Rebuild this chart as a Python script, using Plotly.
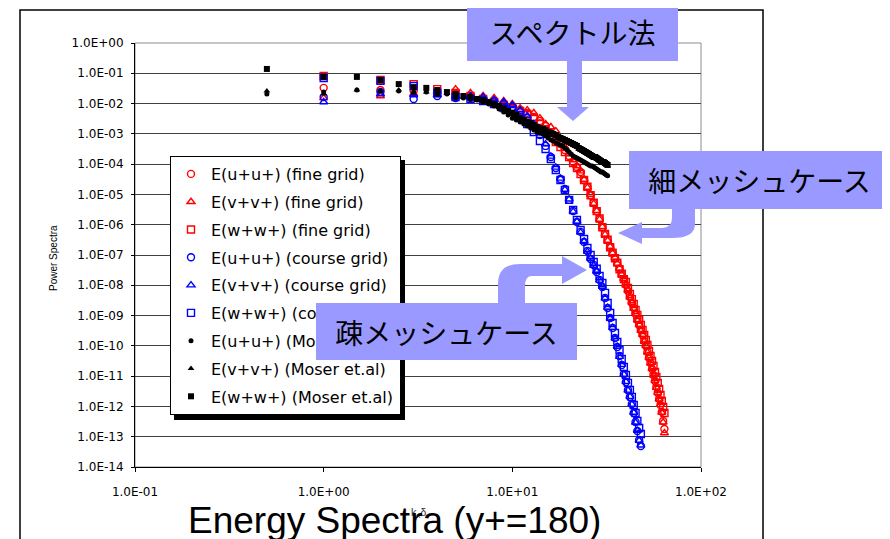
import plotly.graph_objects as go

# ---------------- data ----------------
kx_fine = [1, 2, 3, 4, 5, 6, 7, 8, 9, 10, 11, 12, 13, 14, 15, 16,
           17, 18, 19, 20, 21, 22, 23, 24, 25, 26, 27, 28, 29, 30, 31, 32,
           33, 34, 35, 36, 37, 38, 39, 40, 41, 42, 43, 44, 45, 46, 47, 48,
           49, 50, 51, 52, 53, 54, 55, 56, 57, 58, 59, 60, 61, 62, 63, 64]
kx_coarse = [1, 2, 3, 4, 5, 6, 7, 8, 9, 10, 11, 12, 13, 14, 15, 16,
             17, 18, 19, 20, 21, 22, 23, 24, 25, 26, 27, 28, 29, 30, 31, 32,
             33, 34, 35, 36, 37, 38, 39, 40, 41, 42, 43, 44, 45, 46, 47, 48]
kx_moser = [0.5, 1.0, 1.5, 2.0, 2.5, 3.0, 3.5, 4.0, 4.5, 5.0, 5.5, 6.0, 6.5, 7.0, 7.5, 8.0,
            8.5, 9.0, 9.5, 10.0, 10.5, 11.0, 11.5, 12.0, 12.5, 13.0, 13.5, 14.0, 14.5, 15.0, 15.5, 16.0,
            16.5, 17.0, 17.5, 18.0, 18.5, 19.0, 19.5, 20.0, 20.5, 21.0, 21.5, 22.0, 22.5, 23.0, 23.5, 24.0,
            24.5, 25.0, 25.5, 26.0, 26.5, 27.0, 27.5, 28.0, 28.5, 29.0, 29.5, 30.0, 30.5, 31.0, 31.5, 32.0]

E_uu_fine = [3.3e-2, 2.8e-2, 2.6e-2, 2.4e-2, 2.1e-2, 1.65e-2, 1.42e-2, 1.22e-2,
             9.7e-3, 7.7e-3, 6.1e-3, 4.9e-3, 3.6e-3, 2.66e-3, 1.82e-3, 1.07e-3,
             6.8e-4, 4.6e-4, 2.94e-4, 1.86e-4, 1.18e-4, 8.1e-5, 5.5e-5, 3.0e-5,
             1.76e-5, 9.6e-6, 5.2e-6, 2.84e-6, 1.55e-6, 8.4e-7, 4.9e-7, 3.1e-7,
             1.84e-7, 1.17e-7, 8.0e-8, 5.5e-8, 3.5e-8, 2.37e-8, 1.62e-8, 1.03e-8,
             6.5e-9, 4.1e-9, 2.6e-9, 1.78e-9, 1.13e-9, 7.2e-10, 4.9e-10, 3.35e-10,
             2.29e-10, 1.45e-10, 9.9e-11, 6.3e-11, 4.0e-11, 2.72e-11, 1.73e-11, 1.09e-11,
             6.9e-12, 4.4e-12, 2.79e-12, 1.77e-12, 1.12e-12, 6.6e-13, 3.3e-13, 1.8e-13]
E_vv_fine = [1.53e-2, 1.78e-2, 2.1e-2, 2.4e-2, 3.0e-2, 2.23e-2, 1.78e-2, 1.53e-2,
             1.22e-2, 9.7e-3, 7.1e-3, 6.1e-3, 4.9e-3, 3.3e-3, 2.12e-3, 1.69e-3,
             1.24e-3, 6.8e-4, 3.7e-4, 2.16e-4, 1.37e-4, 8.7e-5, 5.9e-5, 3.1e-5,
             1.7e-5, 9.9e-6, 5.0e-6, 2.9e-6, 1.5e-6, 8.6e-7, 4.8e-7, 3.0e-7,
             1.9e-7, 1.15e-7, 8.2e-8, 5.3e-8, 3.6e-8, 2.3e-8, 1.65e-8, 1.0e-8,
             6.7e-9, 4.0e-9, 2.7e-9, 1.72e-9, 1.16e-9, 7.0e-10, 5.0e-10, 3.2e-10,
             2.35e-10, 1.4e-10, 1.02e-10, 6.1e-11, 4.1e-11, 2.65e-11, 1.78e-11, 1.06e-11,
             7.1e-12, 4.2e-12, 2.85e-12, 1.72e-12, 1.15e-12, 6.3e-13, 3.0e-13, 1.33e-13]
E_ww_fine = [8.1e-2, 6.0e-2, 4.4e-2, 3.0e-2, 2.23e-2, 1.78e-2, 1.42e-2, 1.13e-2,
             9.0e-3, 7.1e-3, 5.7e-3, 4.5e-3, 3.1e-3, 2.12e-3, 1.34e-3, 8.5e-4,
             5.4e-4, 3.7e-4, 2.52e-4, 1.72e-4, 1.09e-4, 7.5e-5, 4.7e-5, 3.0e-5,
             1.8e-5, 9.4e-6, 5.3e-6, 2.8e-6, 1.6e-6, 8.2e-7, 5.0e-7, 3.2e-7,
             1.8e-7, 1.2e-7, 7.8e-8, 5.6e-8, 3.4e-8, 2.4e-8, 1.6e-8, 1.29e-8,
             8.2e-9, 5.2e-9, 3.5e-9, 2.42e-9, 1.53e-9, 1.05e-9, 7.2e-10, 4.9e-10,
             3.35e-10, 2.29e-10, 1.57e-10, 1.07e-10, 6.8e-11, 4.6e-11, 3.2e-11, 2.17e-11,
             1.37e-11, 9.4e-12, 6.0e-12, 3.8e-12, 2.39e-12, 1.52e-12, 9.6e-13, 6.1e-13]

E_uu_coarse = [1.65e-2, 2.4e-2, 1.42e-2, 1.78e-2, 1.53e-2, 1.53e-2, 1.31e-2, 1.22e-2,
               9.7e-3, 7.7e-3, 5.3e-3, 3.3e-3, 1.82e-3, 9.2e-4, 4.0e-4, 1.72e-4,
               7.5e-5, 3.24e-5, 1.51e-5, 6.6e-6, 2.84e-6, 1.23e-6, 5.8e-7, 2.69e-7,
               1.36e-7, 7.4e-8, 4.7e-8, 2.75e-8, 1.5e-8, 8.8e-9, 3.8e-9, 1.78e-9,
               8.3e-10, 3.9e-10, 1.82e-10, 9.2e-11, 4.6e-11, 2.34e-11, 1.18e-11, 6.4e-12,
               3.5e-12, 2.06e-12, 1.21e-12, 6.1e-13, 3.08e-13, 1.55e-13, 7.8e-14, 4.95e-14]
E_vv_coarse = [1.13e-2, 2.07e-2, 1.92e-2, 1.92e-2, 1.65e-2, 1.78e-2, 1.65e-2, 1.31e-2,
               1.13e-2, 9.0e-3, 6.1e-3, 3.9e-3, 2.12e-3, 1.07e-3, 4.6e-4, 1.8e-4,
               7.8e-5, 3.4e-5, 1.45e-5, 6.9e-6, 2.7e-6, 1.28e-6, 5.6e-7, 2.8e-7,
               1.3e-7, 7.7e-8, 4.5e-8, 2.85e-8, 1.45e-8, 9.1e-9, 3.7e-9, 1.84e-9,
               8.0e-10, 4.0e-10, 1.76e-10, 9.5e-11, 4.4e-11, 2.4e-11, 1.14e-11, 6.6e-12,
               3.4e-12, 2.1e-12, 1.17e-12, 6.3e-13, 2.95e-13, 1.6e-13, 7.5e-14, 5.2e-14]
E_ww_coarse = [7.0e-2, 5.6e-2, 3.8e-2, 2.23e-2, 1.65e-2, 1.42e-2, 1.22e-2, 9.7e-3,
               7.1e-3, 5.7e-3, 3.6e-3, 2.12e-3, 1.15e-3, 5.8e-4, 3.16e-4, 1.48e-4,
               6.4e-5, 3.0e-5, 1.4e-5, 6.6e-6, 3.07e-6, 1.43e-6, 6.7e-7, 3.38e-7,
               1.71e-7, 1.0e-7, 5.9e-8, 3.5e-8, 2.03e-8, 1.19e-8, 5.6e-9, 2.6e-9,
               1.22e-9, 5.7e-10, 2.67e-10, 1.35e-10, 7.3e-11, 3.7e-11, 2.01e-11, 1.09e-11,
               6.0e-12, 3.5e-12, 2.06e-12, 1.12e-12, 6.1e-13, 3.3e-13, 1.95e-13, 1.23e-13]

E_uu_moser = [2.07e-2, 2.4e-2, 2.8e-2, 2.6e-2, 2.6e-2, 2.4e-2, 2.4e-2, 2.07e-2,
              2.07e-2, 1.53e-2, 1.53e-2, 1.42e-2, 1.31e-2, 1.13e-2, 9.7e-3, 8.3e-3,
              6.6e-3, 5.3e-3, 4.2e-3, 3.3e-3, 2.87e-3, 2.47e-3, 2.12e-3, 1.82e-3,
              1.56e-3, 1.34e-3, 1.15e-3, 1.07e-3, 9.9e-4, 8.5e-4, 7.3e-4, 6.3e-4,
              5.8e-4, 5.0e-4, 4.6e-4, 4.3e-4, 4.0e-4, 3.42e-4, 2.94e-4, 2.52e-4,
              2.16e-4, 1.86e-4, 1.72e-4, 1.6e-4, 1.48e-4, 1.37e-4, 1.27e-4, 1.18e-4,
              1.09e-4, 1.01e-4, 9.4e-5, 8.7e-5, 8.7e-5, 8.1e-5, 7.5e-5, 6.9e-5,
              6.4e-5, 5.9e-5, 5.5e-5, 5.5e-5, 5.1e-5, 4.7e-5, 4.4e-5, 4.1e-5]
E_vv_moser = [2.6e-2, 2.07e-2, 2.8e-2, 2.6e-2, 2.8e-2, 2.23e-2, 2.4e-2, 1.92e-2,
              2.23e-2, 1.65e-2, 1.65e-2, 1.53e-2, 1.31e-2, 1.22e-2, 1.05e-2, 9.0e-3,
              7.7e-3, 6.6e-3, 5.3e-3, 4.5e-3, 3.9e-3, 3.1e-3, 2.66e-3, 2.29e-3,
              2.12e-3, 1.82e-3, 1.56e-3, 1.45e-3, 1.34e-3, 1.24e-3, 1.07e-3, 9.9e-4,
              9.2e-4, 8.5e-4, 7.3e-4, 6.8e-4, 6.3e-4, 5.8e-4, 5.4e-4, 5.0e-4,
              4.6e-4, 4.3e-4, 4.0e-4, 3.7e-4, 3.16e-4, 2.94e-4, 2.72e-4, 2.52e-4,
              2.34e-4, 2.16e-4, 2.0e-4, 1.86e-4, 1.72e-4, 1.6e-4, 1.6e-4, 1.48e-4,
              1.37e-4, 1.27e-4, 1.18e-4, 1.09e-4, 1.09e-4, 1.01e-4, 9.4e-5, 8.7e-5]
E_ww_moser = [1.39e-1, 7.6e-2, 7.6e-2, 6.0e-2, 4.4e-2, 3.5e-2, 3.3e-2, 2.8e-2,
              2.4e-2, 2.07e-2, 1.78e-2, 1.65e-2, 1.42e-2, 1.31e-2, 1.13e-2, 9.7e-3,
              8.3e-3, 7.1e-3, 5.7e-3, 4.9e-3, 4.2e-3, 3.3e-3, 2.87e-3, 2.47e-3,
              2.29e-3, 1.96e-3, 1.69e-3, 1.56e-3, 1.45e-3, 1.34e-3, 1.15e-3, 1.07e-3,
              9.9e-4, 9.2e-4, 7.9e-4, 7.3e-4, 6.8e-4, 6.3e-4, 5.8e-4, 5.4e-4,
              5.0e-4, 4.6e-4, 4.3e-4, 4.0e-4, 3.42e-4, 3.16e-4, 2.94e-4, 2.72e-4,
              2.52e-4, 2.34e-4, 2.16e-4, 2.0e-4, 1.86e-4, 1.72e-4, 1.72e-4, 1.6e-4,
              1.48e-4, 1.37e-4, 1.27e-4, 1.18e-4, 1.18e-4, 1.09e-4, 1.01e-4, 9.4e-5]

x_tick_vals = [0.1, 1, 10, 100]
x_tick_text = ["1.0E-01", "1.0E+00", "1.0E+01", "1.0E+02"]
y_tick_vals = [1e0, 1e-1, 1e-2, 1e-3, 1e-4, 1e-5, 1e-6, 1e-7,
               1e-8, 1e-9, 1e-10, 1e-11, 1e-12, 1e-13, 1e-14]
y_tick_text = ["1.0E+00", "1.0E-01", "1.0E-02", "1.0E-03", "1.0E-04", "1.0E-05",
               "1.0E-06", "1.0E-07", "1.0E-08", "1.0E-09", "1.0E-10", "1.0E-11",
               "1.0E-12", "1.0E-13", "1.0E-14"]

series = [
    ("E(u+u+) (fine grid)", kx_fine, E_uu_fine, "circle-open", "#FF0000"),
    ("E(v+v+) (fine grid)", kx_fine, E_vv_fine, "triangle-up-open", "#FF0000"),
    ("E(w+w+) (fine grid)", kx_fine, E_ww_fine, "square-open", "#FF0000"),
    ("E(u+u+) (course grid)", kx_coarse, E_uu_coarse, "circle-open", "#0000FF"),
    ("E(v+v+) (course grid)", kx_coarse, E_vv_coarse, "triangle-up-open", "#0000FF"),
    ("E(w+w+) (course grid)", kx_coarse, E_ww_coarse, "square-open", "#0000FF"),
    ("E(u+u+) (Moser et.al)", kx_moser, E_uu_moser, "circle", "#000000"),
    ("E(v+v+) (Moser et.al)", kx_moser, E_vv_moser, "triangle-up", "#000000"),
    ("E(w+w+) (Moser et.al)", kx_moser, E_ww_moser, "square", "#000000"),
]

# ---------------- layout geometry (page pixels) ----------------
W, H = 890, 539
OFF = 8                               # default page (body) margin of the html page
PL, PR, PT, PB = 135, 701, 43, 467    # plot area box as seen on the page


def fx(x):
    return (x - PL) / (PR - PL)


def fy(y):
    return (PB - y) / (PB - PT)


def ppath(cmds):
    out = []
    for c in cmds:
        if isinstance(c, str):
            out.append(c)
        else:
            out.append(f"{fx(c[0]):.5f},{fy(c[1]):.5f}")
    return " ".join(out)


fig = go.Figure()
for i, (name, xs, ys, sym, col) in enumerate(series):
    filled = not sym.endswith("open")
    fig.add_trace(go.Scatter(
        x=xs, y=ys, mode="markers", name=name, legendgroup=f"g{i}",
        marker=dict(symbol=sym, color=col, size=(5 if sym == "circle" else 6) if filled else 7,
                    line=dict(color=col, width=0 if filled else 1.4)),
    ))

LAV = "#9999FF"
shapes = [
    dict(type="rect", xref="paper", yref="paper", x0=fx(20), x1=fx(763), y0=fy(560), y1=fy(10),
         line=dict(color="black", width=1.5), layer="below"),
    dict(type="rect", xref="paper", yref="paper", x0=0, x1=1, y0=0, y1=1,
         line=dict(color="#8c8c8c", width=1), layer="below"),
    dict(type="rect", xref="paper", yref="paper", x0=fx(174), x1=fx(405), y0=fy(420), y1=fy(160),
         line=dict(width=0), fillcolor="black", layer="above"),
    dict(type="path", xref="paper", yref="paper", fillcolor=LAV, line=dict(width=0),
         path=ppath(["M", (567, 61), "L", (582, 61), "L", (582, 107), "L", (589, 107), "L", (573, 121),
                     "L", (557, 107), "L", (567, 107), "Z"])),
    dict(type="path", xref="paper", yref="paper", fillcolor=LAV, line=dict(width=0),
         path=ppath(["M", (672, 209), "L", (695, 209), "L", (695, 224), "Q", (695, 238), (672, 238),
                     "L", (642, 238), "L", (642, 244), "L", (618, 233), "L", (642, 222), "L", (642, 228),
                     "L", (662, 228), "Q", (672, 228), (672, 218), "Z"])),
    dict(type="path", xref="paper", yref="paper", fillcolor=LAV, line=dict(width=0),
         path=ppath(["M", (498, 303), "L", (498, 284), "Q", (498, 264), (520, 264), "L", (562, 264),
                     "L", (562, 256), "L", (587, 270), "L", (562, 284), "L", (562, 276), "L", (532, 276),
                     "Q", (525, 276), (525, 286), "L", (525, 303), "Z"])),
]

JP = "Noto Sans CJK JP"
annotations = [
    dict(text="Power Spectra", xref="paper", yref="paper", x=fx(53), y=fy(258), showarrow=False,
         textangle=-90, font=dict(family="Liberation Sans", size=10, color="black"),
         xanchor="center", yanchor="middle"),
    dict(text="k<sub>x</sub>δ", xref="paper", yref="paper", x=fx(418), y=fy(513), showarrow=False,
         font=dict(family="Liberation Sans", size=11, color="#333333"), xanchor="center", yanchor="middle"),
    dict(text="Energy Spectra (y+=180)", xref="paper", yref="paper", x=fx(394), y=fy(520),
         showarrow=False, font=dict(family="Liberation Sans", size=37, color="black"),
         xanchor="center", yanchor="middle"),
    dict(text="スペクトル法", xref="paper", yref="paper", x=fx(572.5), y=fy(32), showarrow=False,
         width=211, height=58, bgcolor=LAV, borderpad=0, borderwidth=0,
         font=dict(family=JP, size=28, color="black"), xanchor="center", yanchor="middle"),
    dict(text="細メッシュケース", xref="paper", yref="paper", x=fx(759.5), y=fy(180), showarrow=False,
         width=261, height=58, bgcolor=LAV, borderpad=0, borderwidth=0,
         font=dict(family=JP, size=28, color="black"), xanchor="center", yanchor="middle"),
    dict(text="疎メッシュケース", xref="paper", yref="paper", x=fx(446.5), y=fy(331.5), showarrow=False,
         width=261, height=57, bgcolor=LAV, borderpad=0, borderwidth=0,
         font=dict(family=JP, size=28, color="black"), xanchor="center", yanchor="middle"),
]

fig.update_layout(
    width=W, height=H,
    margin=dict(l=PL - OFF, r=W - PR + OFF, t=PT - OFF, b=H - PB + OFF, autoexpand=False),
    paper_bgcolor="white", plot_bgcolor="white",
    showlegend=True,
    legend=dict(x=fx(170), y=fy(156), xanchor="left", yanchor="top",
                bgcolor="white", bordercolor="black", borderwidth=1,
                font=dict(family="DejaVu Sans", size=16, color="black"),
                traceorder="grouped", tracegroupgap=4),
    xaxis=dict(type="log", range=[-1, 2], tickvals=x_tick_vals, ticktext=x_tick_text,
               showgrid=False, zeroline=False, showline=True, linecolor="black", linewidth=1,
               ticks="outside", ticklen=4, tickcolor="black", ticklabelstandoff=10,
               tickfont=dict(family="DejaVu Sans", size=12, color="black")),
    yaxis=dict(type="log", range=[-14, 0], tickvals=y_tick_vals, ticktext=y_tick_text,
               showgrid=True, gridcolor="#404040", gridwidth=1, zeroline=False,
               showline=True, linecolor="black", linewidth=1,
               ticks="outside", ticklen=3, tickcolor="black", ticklabelstandoff=5,
               tickfont=dict(family="DejaVu Sans", size=12, color="black")),
    shapes=shapes,
    annotations=annotations,
)

fig.write_html("out.html")
